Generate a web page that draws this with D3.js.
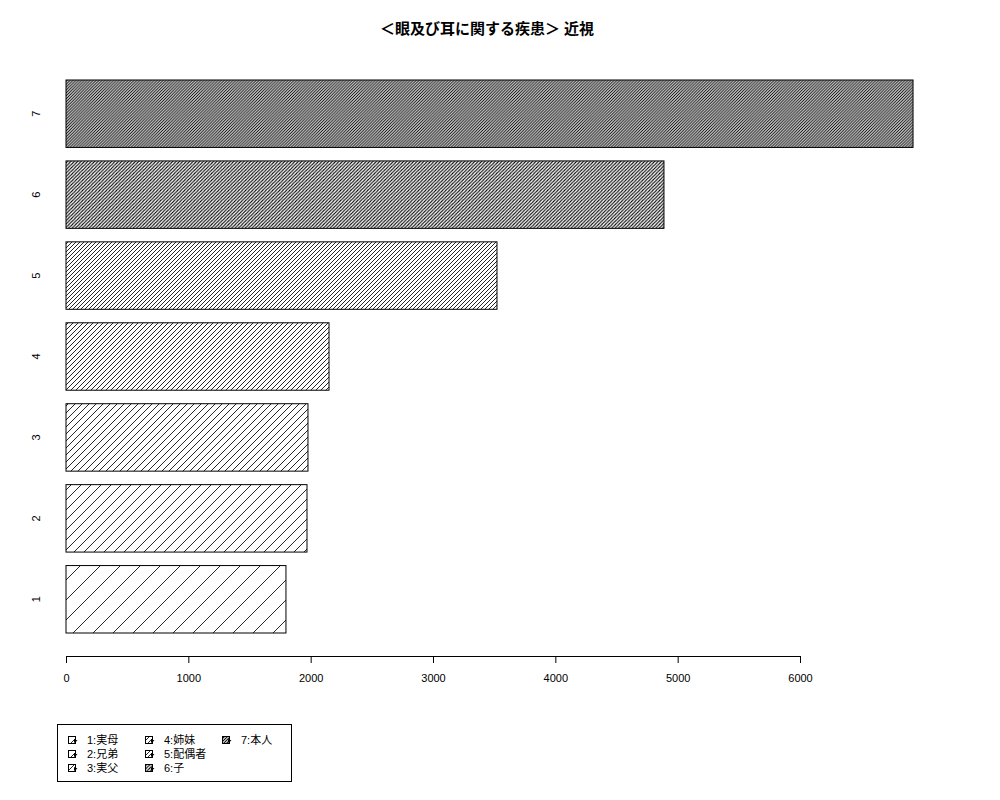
<!DOCTYPE html>
<html lang="ja">
<head>
    <meta charset="UTF-8">
    <title>眼及び耳に関する疾患 近視</title>
    <script src="https://d3js.org/d3.v7.min.js"></script>
    <style>
        body { margin: 0; background: #fff; }
        text { font-family: "Liberation Sans", "Noto Sans CJK JP", sans-serif; fill: #000; }
    </style>
</head>
<body>
<script>
    // values
    var categories = ["1", "2", "3", "4", "5", "6", "7"];
    var values = [1798, 1970, 1978, 2150, 3523, 4888, 6924];
    // hatch density, lines per inch (R style)
    var densities = [5, 10, 15, 20, 25, 30, 35];
    var legendLabels = ["1:実母", "2:兄弟", "3:実父", "4:姉妹", "5:配偶者", "6:子", "7:本人"];
    var xTicks = [0, 1000, 2000, 3000, 4000, 5000, 6000];
    var title = "＜眼及び耳に関する疾患＞ 近視";

    var width = 1000, height = 800;

    var data = categories.map(function(c, i) {
        return { cat: c, value: values[i], density: densities[i], label: legendLabels[i] };
    });

    var svg = d3.select("body").append("svg")
        .attr("width", width)
        .attr("height", height);

    // hatch patterns, 45 degree lines; tile = horizontal gap between lines at 72 dpi
    var defs = svg.append("defs");
    data.forEach(function(d, i) {
        var w = 72 * Math.SQRT2 / d.density;
        if (w > 3.6) w = Math.round(w); // whole pixels where we can, less beating
        var p = defs.append("pattern")
            .attr("id", "hatch" + i)
            .attr("patternUnits", "userSpaceOnUse")
            .attr("x", 66).attr("y", 0)
            .attr("width", w)
            .attr("height", w);
        p.append("rect").attr("width", w).attr("height", w).attr("fill", "#fff");
        p.append("path")
            .attr("d", "M0," + w + "L" + w + ",0" +
                "M" + (-w / 4) + "," + (w / 4) + "L" + (w / 4) + "," + (-w / 4) +
                "M" + (3 * w / 4) + "," + (5 * w / 4) + "L" + (5 * w / 4) + "," + (3 * w / 4))
            .attr("stroke", "#000")
            .attr("stroke-width", w < 3.6 ? 1.05 : 0.85);
    });

    var x = d3.scaleLinear().domain([0, 6000]).range([66, 800]);

    // R barplot space=0.2 -> inner padding 0.2/1.2
    var y = d3.scaleBand()
        .domain(categories.slice().reverse())
        .range([80, 633])
        .paddingInner(0.2 / 1.2)
        .paddingOuter(0);

    // title
    svg.append("text")
        .attr("x", 487)
        .attr("y", 34)
        .attr("text-anchor", "middle")
        .style("font-size", "15px")
        .style("font-weight", "bold")
        .text(title);

    // bars
    svg.append("g").selectAll("rect")
        .data(data)
        .enter().append("rect")
        .attr("x", x(0))
        .attr("y", function(d) { return y(d.cat); })
        .attr("width", function(d) { return x(d.value) - x(0); })
        .attr("height", y.bandwidth())
        .attr("fill", function(d, i) { return "url(#hatch" + i + ")"; })
        .attr("stroke", "#000")
        .attr("stroke-width", 1);

    // bar names, rotated like R las=0
    svg.append("g").selectAll("text")
        .data(data)
        .enter().append("text")
        .attr("transform", function(d) {
            return "translate(40," + (y(d.cat) + y.bandwidth() / 2) + ") rotate(-90)";
        })
        .attr("text-anchor", "middle")
        .style("font-size", "11px")
        .text(function(d) { return d.cat; });

    // x axis
    var xAxis = svg.append("g")
        .attr("transform", "translate(0,656)")
        .call(d3.axisBottom(x).tickValues(xTicks).tickFormat(d3.format("d"))
            .tickSize(7).tickSizeOuter(0).tickPadding(11));
    xAxis.selectAll("text").style("font-size", "11px")
        .style("font-family", "'Liberation Sans', sans-serif");
    xAxis.selectAll("path, line").attr("stroke", "#000");

    // legend
    var legend = svg.append("g");
    legend.append("rect")
        .attr("x", 57.5).attr("y", 724.5)
        .attr("width", 234).attr("height", 57)
        .attr("fill", "#fff")
        .attr("stroke", "#000");

    var colX = [68, 145, 222];
    var rowY = [740, 754, 768];

    var item = legend.selectAll(".item")
        .data(data)
        .enter().append("g")
        .attr("class", "item")
        .attr("transform", function(d, i) {
            return "translate(" + colX[Math.floor(i / 3)] + "," + rowY[i % 3] + ")";
        });

    item.append("rect")
        .attr("x", 0.5).attr("y", -3.5)
        .attr("width", 7).attr("height", 7)
        .attr("fill", function(d, i) { return "url(#hatch" + i + ")"; })
        .attr("stroke", "#000")
        .attr("stroke-width", 1);
    item.append("path")
        .attr("d", "M6,-1 L9.5,0.5 L6,3 Z")
        .attr("fill", "#000");

    item.append("text")
        .attr("x", 19)
        .attr("y", 0)
        .attr("dy", "0.36em")
        .style("font-size", "11px")
        .text(function(d) { return d.label; });
</script>
</body>
</html>
